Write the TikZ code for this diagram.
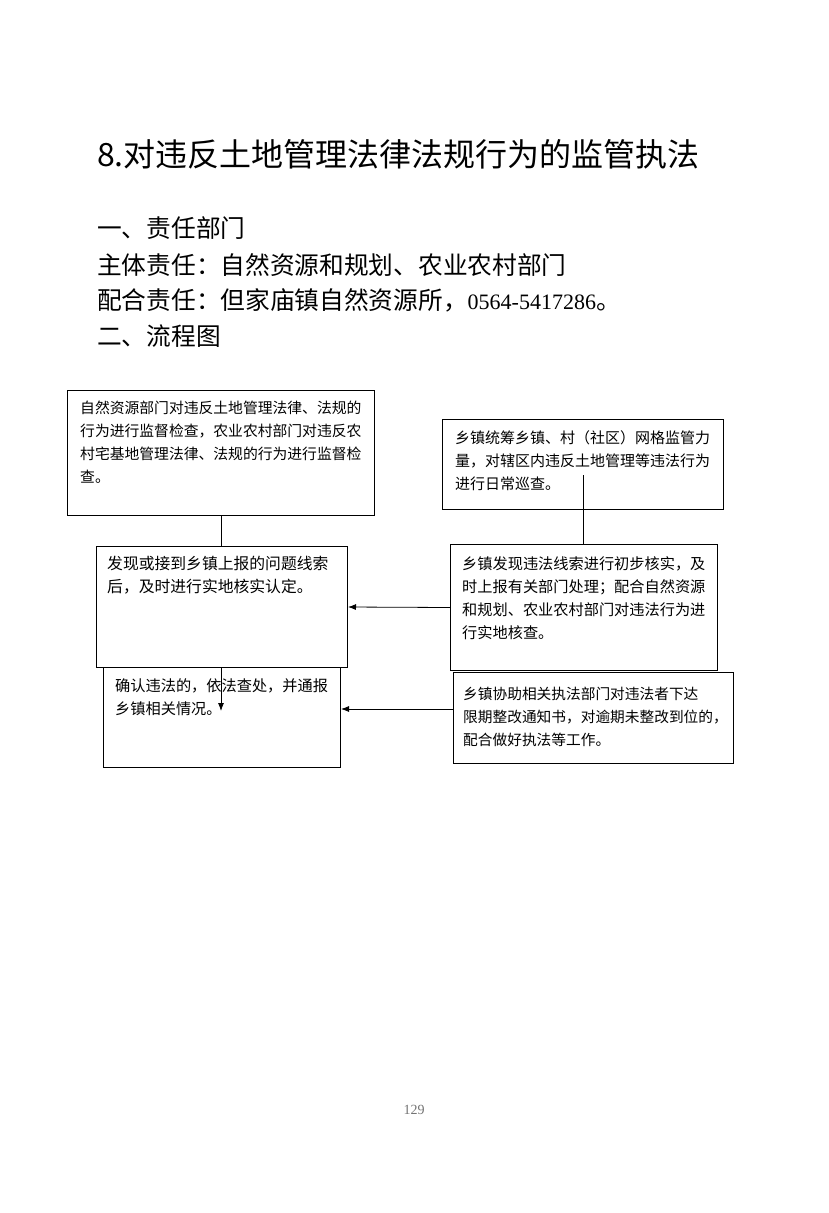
\documentclass[tikz,border=0pt]{standalone}
\usepackage{fontspec}
\setmainfont{Noto Sans CJK SC}
\newfontfamily\numfont{Liberation Serif}
\usetikzlibrary{arrows.meta}
\usetikzlibrary{positioning}

\tikzset{
	box/.style={draw, black, line width=1pt, fill=white, rectangle, anchor=north west, inner sep=0pt},
	boxtext/.style={anchor=base west, align=left, inner sep=0pt, font=\fontsize{#1}{23}\selectfont},
	headline/.style={anchor=base west, inner sep=0pt, font=\fontsize{24.7}{26}\selectfont},
	link/.style={black, line width=0.8pt},
	arr/.style={black, line width=0.8pt, -{Latex[length=8pt,width=6pt]}},
}

\begin{document}
\begin{tikzpicture}[x=1pt,y=-1pt]
\useasboundingbox[fill=white] (0,0) rectangle (828,1213);

% heading
\node[anchor=base west, inner sep=0pt, font=\fontsize{32}{32}\selectfont] (title) at (97,166) {8.对违反土地管理法律法规行为的监管执法};

\node[headline] (sec1) at (97,237) {一、责任部门};
\node[headline] (lead) at (97,274) {主体责任：自然资源和规划、农业农村部门};
\node[headline] (assist) at (97,309) {配合责任：但家庙镇自然资源所，{\numfont\fontsize{22}{26}\selectfont 0564-5417286}。};
\node[headline] (sec2) at (97,345) {二、流程图};

% boxes, left column
\node[box, minimum width=307pt, minimum height=125pt] (insp) at (67,390) {};
\node[box, minimum width=237pt, minimum height=100pt] (handle) at (103,667) {};
\node[box, minimum width=251pt, minimum height=121pt] (find) at (96,546) {};

% boxes, right column
\node[box, minimum width=281pt, minimum height=90pt] (patrol) at (442,419) {};
\node[box, minimum width=267pt, minimum height=126pt] (check) at (450,544) {};
\node[box, minimum width=280pt, minimum height=91pt] (notice) at (453,672) {};

% texts (placed by the baseline of their last line)
\node[boxtext=14.8] (inspT) at (80,482) {自然资源部门对违反土地管理法律、法规的\\行为进行监督检查，农业农村部门对违反农\\村宅基地管理法律、法规的行为进行监督检\\查。};
\node[boxtext=15.8] (findT) at (107,592) {发现或接到乡镇上报的问题线索\\后，及时进行实地核实认定。};
\node[boxtext=15.2] (handleT) at (115,714) {确认违法的，依法查处，并通报\\乡镇相关情况。};
\node[boxtext=15] (patrolT) at (455,489) {乡镇统筹乡镇、村（社区）网格监管力\\量，对辖区内违反土地管理等违法行为\\进行日常巡查。};
\node[boxtext=15.2] (checkT) at (462,638) {乡镇发现违法线索进行初步核实，及\\时上报有关部门处理；配合自然资源\\和规划、农业农村部门对违法行为进\\行实地核查。};
\node[boxtext=14.7] (noticeT) at (463,745) {乡镇协助相关执法部门对违法者下达\\限期整改通知书，对逾期未整改到位的，\\配合做好执法等工作。};

% connectors
\coordinate (patrolTail) at (583,475);
\coordinate (handleTip) at (221,711);

\draw[link] (insp.south) -- (insp.south |- find.north);
\draw[link] (patrolTail) -- (patrolTail |- check.north);
\draw[arr] (find.south -| handleTip) -- (handleTip);
\draw[arr] (check.west) -- (find.east);
\draw[arr] ([yshift=9pt]notice.west) -- ([yshift=9pt]notice.west -| handle.east);

% page number
\node[inner sep=0pt, text=black!55, font=\numfont\fontsize{14}{14}\selectfont] (page) at (414,1110) {129};

\end{tikzpicture}
\end{document}
